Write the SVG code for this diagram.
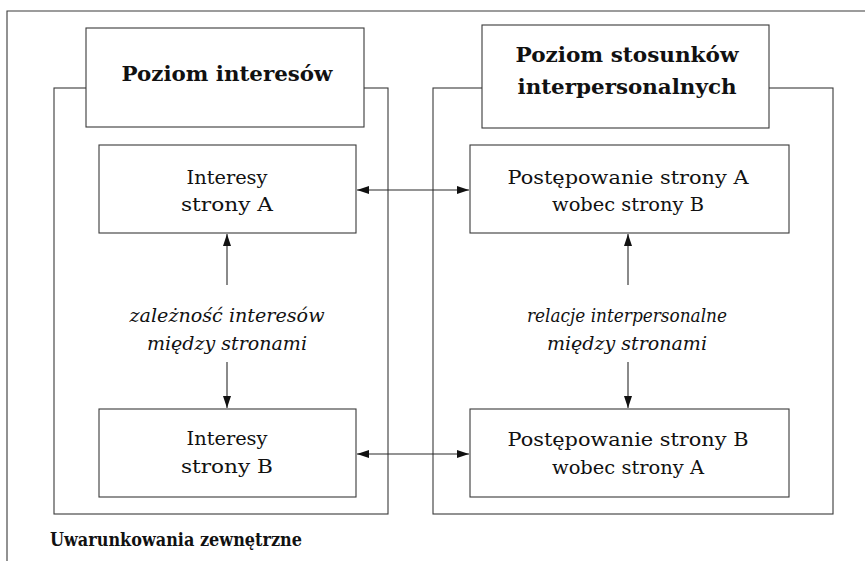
<svg xmlns="http://www.w3.org/2000/svg" width="866" height="561" viewBox="0 0 866 561">
  <style>
    .frame { fill: none; stroke: #3a3a3a; stroke-width: 1.1; }
    .box { fill: #ffffff; stroke: #3a3a3a; stroke-width: 1.1; }
    .link { fill: none; stroke: #2a2a2a; stroke-width: 1.1; }
    text { font-family: "DejaVu Serif", "Liberation Serif", serif; fill: #111111; text-anchor: middle; }
    .body { font-size: 19px; }
    .head { font-size: 20px; font-weight: bold; }
    .note { font-size: 19px; font-style: italic; }
    .left { text-anchor: start; }
  </style>
  <defs>
    <marker id="arrow" viewBox="0 0 12 8" refX="12" refY="4" markerWidth="12" markerHeight="8" markerUnits="userSpaceOnUse" orient="auto-start-reverse">
      <path d="M0,0 L12,4 L0,8 Z" fill="#111111"/>
    </marker>
  </defs>

  <rect width="866" height="561" fill="#ffffff"/>

  <!-- outer frame: top and left edges -->
  <path class="frame" d="M7,561 V11 H865"/>

  <!-- left panel: level of interests -->
  <g id="panel-interests">
    <rect class="frame" x="54" y="88" width="334" height="426"/>
    <rect class="box" x="86" y="28" width="278" height="99"/>
    <text class="head" x="227" y="81" textLength="211" lengthAdjust="spacingAndGlyphs">Poziom interesów</text>
  </g>

  <!-- right panel: level of interpersonal relations -->
  <g id="panel-relations">
    <rect class="frame" x="433" y="88" width="400" height="426"/>
    <rect class="box" x="482" y="25" width="287" height="103"/>
    <text class="head" x="627" y="62" textLength="223" lengthAdjust="spacingAndGlyphs">Poziom  stosunków</text>
    <text class="head" x="627" y="94" textLength="219" lengthAdjust="spacingAndGlyphs">interpersonalnych</text>
  </g>

  <g id="interests-a">
    <rect class="box" x="99" y="145" width="257" height="88"/>
    <text class="body" x="227" y="184" textLength="81" lengthAdjust="spacingAndGlyphs">Interesy</text>
    <text class="body" x="227" y="211" textLength="92" lengthAdjust="spacingAndGlyphs">strony A</text>
  </g>

  <g id="interests-b">
    <rect class="box" x="99" y="409" width="257" height="88"/>
    <text class="body" x="227" y="445" textLength="81" lengthAdjust="spacingAndGlyphs">Interesy</text>
    <text class="body" x="227" y="473" textLength="92" lengthAdjust="spacingAndGlyphs">strony B</text>
  </g>

  <g id="conduct-a">
    <rect class="box" x="470" y="145" width="319" height="88"/>
    <text class="body" x="628" y="184" textLength="241" lengthAdjust="spacingAndGlyphs">Postępowanie strony A</text>
    <text class="body" x="628" y="211" textLength="152" lengthAdjust="spacingAndGlyphs">wobec strony B</text>
  </g>

  <g id="conduct-b">
    <rect class="box" x="470" y="409" width="319" height="88"/>
    <text class="body" x="628" y="446" textLength="241" lengthAdjust="spacingAndGlyphs">Postępowanie strony B</text>
    <text class="body" x="628" y="474" textLength="152" lengthAdjust="spacingAndGlyphs">wobec strony A</text>
  </g>

  <!-- mid labels on the vertical links -->
  <g id="label-interests">
    <text class="note" x="227" y="322" textLength="195" lengthAdjust="spacingAndGlyphs">zależność interesów</text>
    <text class="note" x="227" y="350" textLength="160" lengthAdjust="spacingAndGlyphs">między stronami</text>
  </g>
  <g id="label-relations">
    <text class="note" x="627" y="322" textLength="200" lengthAdjust="spacingAndGlyphs">relacje interpersonalne</text>
    <text class="note" x="627" y="350" textLength="160" lengthAdjust="spacingAndGlyphs">między stronami</text>
  </g>

  <g id="external-conditions">
    <text class="head left" x="50" y="546" textLength="252" lengthAdjust="spacingAndGlyphs" style="font-size:19px">Uwarunkowania zewnętrzne</text>
  </g>

  <!-- connectors -->
  <g id="connectors">
    <line class="link" x1="357" y1="190" x2="469" y2="190" marker-start="url(#arrow)" marker-end="url(#arrow)"/>
    <line class="link" x1="357" y1="454" x2="469" y2="454" marker-start="url(#arrow)" marker-end="url(#arrow)"/>
    <line class="link" x1="227" y1="285" x2="227" y2="234" marker-end="url(#arrow)"/>
    <line class="link" x1="227" y1="362" x2="227" y2="408" marker-end="url(#arrow)"/>
    <line class="link" x1="628" y1="285" x2="628" y2="234" marker-end="url(#arrow)"/>
    <line class="link" x1="628" y1="362" x2="628" y2="408" marker-end="url(#arrow)"/>
  </g>
</svg>
